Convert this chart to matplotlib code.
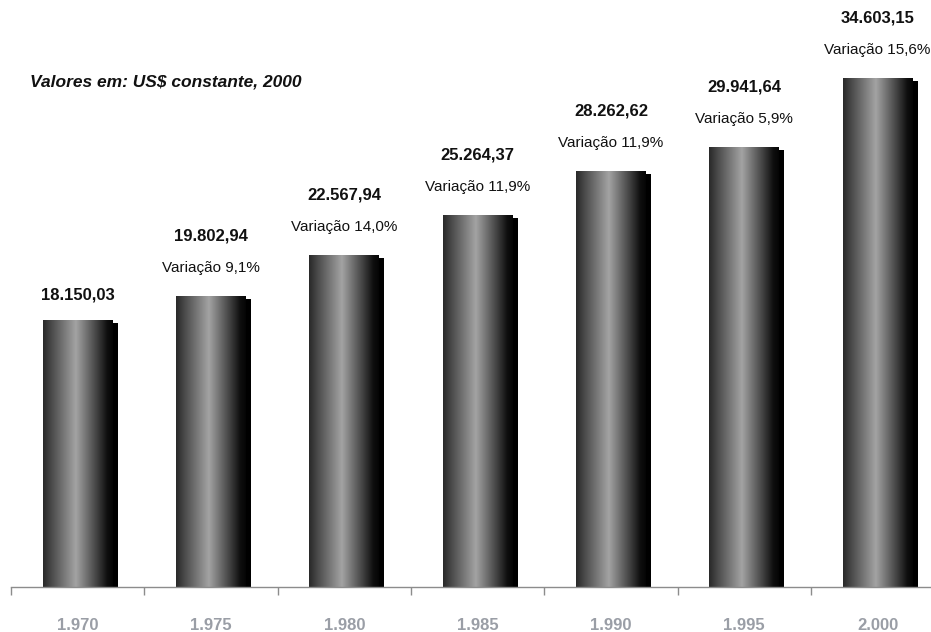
import numpy as np
import matplotlib
matplotlib.use("Agg")
import matplotlib.pyplot as plt
from matplotlib.transforms import ScaledTranslation

years = ["1.970", "1.975", "1.980", "1.985", "1.990", "1.995", "2.000"]
values = [18150.03, 19802.94, 22567.94, 25264.37, 28262.62, 29941.64, 34603.15]
variation = ["", "9,1%", "14,0%", "11,9%", "11,9%", "5,9%", "15,6%"]

FONT = ["Liberation Sans Narrow", "Liberation Sans", "DejaVu Sans"]
plt.rcParams["font.family"] = FONT


def br(v):
    return f"{v:,.2f}".replace(",", "X").replace(".", ",").replace("X", ".")


fig = plt.figure(figsize=(9.31, 6.32), dpi=100)
ax = fig.add_axes([11 / 931, 45 / 632, 933.3 / 931, 587 / 632])

x = np.arange(len(years))
w = 0.525

# black shadow, shifted right and down by a few pixels
shadow = ax.transData + ScaledTranslation(5 / 100, -3 / 100, fig.dpi_scale_trans)
ax.bar(x, values, w, color="black", transform=shadow, zorder=1)

bars = ax.bar(x, values, w, color="none", zorder=2)

# cylinder-like horizontal gradient
stops = [0.0, 0.15, 0.47, 0.8, 0.92, 1.0]
levels = [0.16, 0.32, 0.64, 0.22, 0.06, 0.02]
g = np.interp(np.linspace(0, 1, 256), stops, levels)
grad = np.tile(g, (2, 1))
for b in bars:
    x0, y0 = b.get_x(), b.get_y()
    im = ax.imshow(grad, cmap="gray", vmin=0, vmax=1, aspect="auto",
                   extent=(x0, x0 + b.get_width(), y0, y0 + b.get_height()),
                   zorder=2, interpolation="bilinear")
    im.set_clip_path(b)

for xi, v, var in zip(x, values, variation):
    off = 60 if var else 25
    ax.annotate(br(v), (xi, v), xytext=(0, off * 0.72), textcoords="offset points",
                ha="center", va="center", fontsize=12, fontweight="bold", color="#111111")
    if var:
        ax.annotate(f"Variação {var}", (xi, v), xytext=(0, 28 * 0.72),
                    textcoords="offset points", ha="center", va="center",
                    fontsize=11, color="#111111")

fig.text(30 / 931, 1 - 82 / 632, "Valores em: US$ constante, 2000",
         ha="left", va="center", fontsize=12.5, fontweight="bold", fontstyle="italic",
         color="#111111")

ax.set_xlim(-0.5, len(years) - 0.5)
ax.set_ylim(0, 39900)

for s in ["top", "right", "left"]:
    ax.spines[s].set_visible(False)
ax.spines["bottom"].set_color("#8c8c8c")
ax.spines["bottom"].set_linewidth(1.0)
ax.set_yticks([])
ax.set_xticks(x)
ax.set_xticklabels(years, fontsize=12, fontweight="bold", color="#9a9ea6")
ax.tick_params(axis="x", which="major", length=0, pad=22)
ax.set_xticks(np.arange(-0.5, len(years)), minor=True)
ax.tick_params(axis="x", which="minor", length=5.5, width=1.0, color="#8c8c8c")
ax.set_facecolor("white")

fig.savefig("out.png", dpi=100, facecolor="white")
